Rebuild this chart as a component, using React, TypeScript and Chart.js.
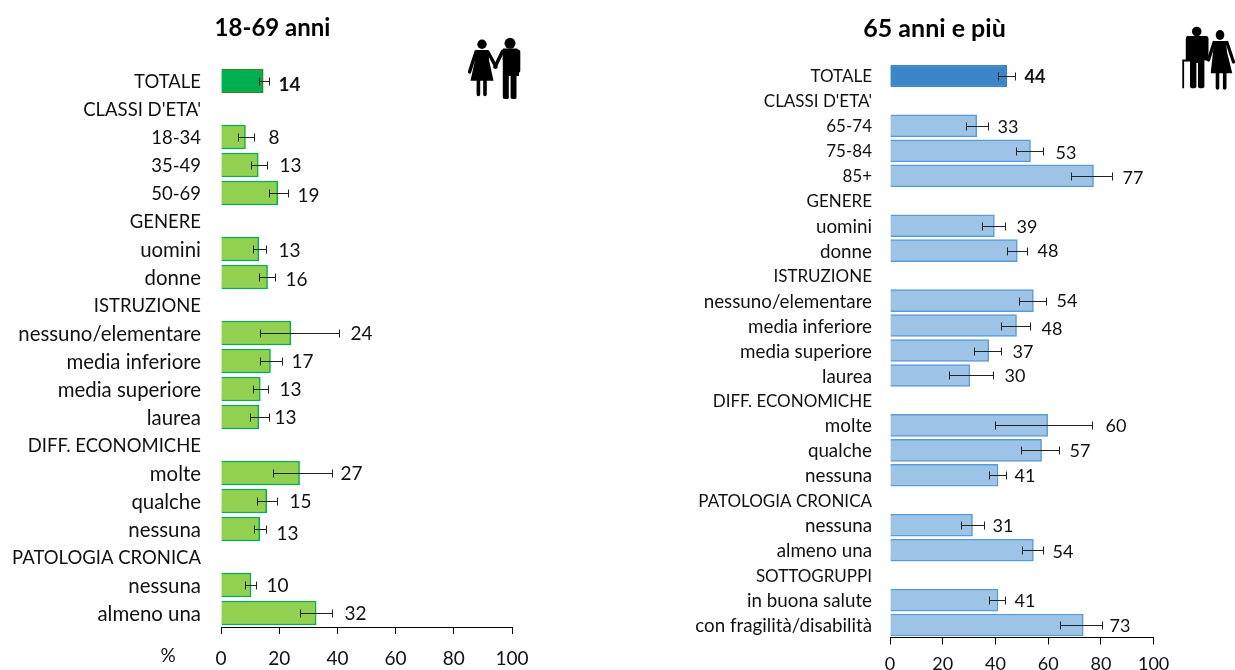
import React, { useEffect, useRef } from "react";
import { Chart, registerables } from "chart.js";

Chart.register(...registerables);

const categoriesYoung = ["TOTALE", "CLASSI D'ETA'", "18-34", "35-49", "50-69", "GENERE", "uomini", "donne", "ISTRUZIONE", "nessuno/elementare", "media inferiore", "media superiore", "laurea", "DIFF. ECONOMICHE", "molte", "qualche", "nessuna", "PATOLOGIA CRONICA", "nessuna", "almeno una"];
const valuesYoung = [14.5, null, 8.4, 12.8, 19.5, null, 13, 16, null, 24, 17, 13.5, 13, null, 27, 15.7, 13.3, null, 10.3, 32.7];
const lowYoung = [12.9, null, 5.7, 10.2, 16.6, null, 11, 13, null, 13.5, 13.5, 11, 10, null, 18, 12.2, 11.5, null, 8.4, 27.2];
const highYoung = [16.5, null, 11.4, 15.7, 23, null, 15.5, 18.5, null, 40.5, 21, 16, 16.5, null, 38, 19.4, 15.4, null, 12, 38];
const labelsYoung = ["14", "", "8", "13", "19", "", "13", "16", "", "24", "17", "13", "13", "", "27", "15", "13", "", "10", "32"];

const categoriesOld = ["TOTALE", "CLASSI D'ETA'", "65-74", "75-84", "85+", "GENERE", "uomini", "donne", "ISTRUZIONE", "nessuno/elementare", "media inferiore", "media superiore", "laurea", "DIFF. ECONOMICHE", "molte", "qualche", "nessuna", "PATOLOGIA CRONICA", "nessuna", "almeno una", "SOTTOGRUPPI", "in buona salute", "con fragilità/disabilità"];
const valuesOld = [44.3, null, 32.9, 53.3, 77.2, null, 39.6, 48.3, null, 54.4, 48, 37.5, 30.3, null, 59.8, 57.5, 41, null, 31.3, 54.4, null, 41, 73.3];
const lowOld = [41, null, 28.9, 47.9, 68.5, null, 35, 44.5, null, 49, 42, 32, 22.5, null, 40, 49.7, 37.5, null, 27, 50, null, 37.5, 64.5];
const highOld = [47.3, null, 37.2, 58, 84.2, null, 43.7, 52, null, 59, 53, 42, 39, null, 76.5, 64.3, 44, null, 35.5, 58, null, 43.5, 80.5];
const labelsOld = ["44", "", "33", "53", "77", "", "39", "48", "", "54", "48", "37", "30", "", "60", "57", "41", "", "31", "54", "", "41", "73"];

const xTicks = [0, 20, 40, 60, 80, 100];

// Layout only: gap between whisker end and value label, and vertical shift of the label.
const labelGapYoung = [9, 0, 14, 12, 9, 0, 12, 10, 0, 11, 9, 11, 5, 0, 8, 12, 10, 0, 10, 12];
const labelDropYoung = [3, 0, 0, 0, 2, 0, 1, 2, 0, 0, 0, 0, 0, 0, 0, 0, 4, 0, 0, 0];
const labelGapOld = [9, 0, 9, 12, 10, 0, 11, 10, 0, 10, 11, 11, 11, 0, 13, 10, 8, 0, 8, 9, 0, 9, 7];
const labelDropOld = [0, 0, 0, 1, 1, 0, 0, 0, 0, 0, 3, 1, 0, 0, 0, 0, 0, 0, 0, 1, 0, 0, 0];

const FONT = "Lato, 'Noto Sans', sans-serif";
const INK = "#111";

type Panel = {
  title: string;
  categories: string[];
  values: (number | null)[];
  low: (number | null)[];
  high: (number | null)[];
  labels: string[];
  gap: number[];
  drop: number[];
  canvasLeft: number;
  canvasWidth: number;
  axisLeft: number;
  axisRight: number;
  plotBottom: number;
  titleCenter: number;
  titleFont: number;
  titleBottomPad: number;
  catFont: number;
  catFontLower: number;
  valFont: number;
  tickFont: number;
  tickPad: number;
  catPad: number;
  barThickness: number;
  fill: string;
  stroke: string;
  totalFill: string;
  totalStroke: string;
  percent: boolean;
};

const panels: Panel[] = [
  {
    title: "18-69 anni", categories: categoriesYoung, values: valuesYoung, low: lowYoung, high: highYoung, labels: labelsYoung,
    gap: labelGapYoung, drop: labelDropYoung,
    canvasLeft: 0, canvasWidth: 600, axisLeft: 221, axisRight: 512, plotBottom: 627, titleCenter: 272.5, titleFont: 24, titleBottomPad: 24.2,
    catFont: 18.5, catFontLower: 20.4, valFont: 19, tickFont: 19, tickPad: 13, catPad: 12, barThickness: 24,
    fill: "#92D050", stroke: "#00B050", totalFill: "#00B050", totalStroke: "#3F7F2A", percent: true,
  },
  {
    title: "65 anni e più", categories: categoriesOld, values: valuesOld, low: lowOld, high: highOld, labels: labelsOld,
    gap: labelGapOld, drop: labelDropOld,
    canvasLeft: 620, canvasWidth: 615, axisLeft: 890, axisRight: 1153.6, plotBottom: 637.5, titleCenter: 934.5, titleFont: 25, titleBottomPad: 19.5,
    catFont: 17, catFontLower: 18.8, valFont: 18, tickFont: 18, tickPad: 9, catPad: 10, barThickness: 22,
    fill: "#9DC3E6", stroke: "#5B9BD5", totalFill: "#3C85C9", totalStroke: "#3C85C9", percent: false,
  },
];

function BarPanel({ p }: { p: Panel }) {
  const ref = useRef<HTMLCanvasElement>(null);
  useEffect(() => {
    const overlay = {
      id: "whiskersAndValues",
      afterLayout(chart: any) {
        const t = chart.titleBlock;
        if (t) {
          const w = t.right - t.left;
          const c = p.titleCenter - p.canvasLeft;
          t.left = c - w / 2;
          t.right = c + w / 2;
        }
      },
      afterDatasetsDraw(chart: any) {
        const { ctx, scales } = chart;
        const x = scales.x;
        const y = scales.y;
        ctx.save();
        p.values.forEach((v, i) => {
          if (v === null) return;
          const yy = Math.round(y.getPixelForValue(i)) + 0.5;
          const lo = Math.round(x.getPixelForValue(p.low[i])) + 0.5;
          const hi = Math.round(x.getPixelForValue(p.high[i])) + 0.5;
          ctx.strokeStyle = "#222";
          ctx.lineWidth = 1;
          ctx.beginPath();
          ctx.moveTo(lo, yy);
          ctx.lineTo(hi, yy);
          ctx.moveTo(lo, yy - 4);
          ctx.lineTo(lo, yy + 4);
          ctx.moveTo(hi, yy - 4);
          ctx.lineTo(hi, yy + 4);
          ctx.stroke();
          ctx.fillStyle = INK;
          ctx.font = `${i === 0 ? "bold " : ""}${p.valFont}px ${FONT}`;
          ctx.textAlign = "left";
          ctx.textBaseline = "middle";
          ctx.fillText(p.labels[i], hi + p.gap[i], y.getPixelForValue(i) + p.drop[i] + 1);
        });
        if (p.percent) {
          ctx.fillStyle = INK;
          ctx.font = `${p.tickFont}px ${FONT}`;
          ctx.textAlign = "center";
          ctx.textBaseline = "middle";
          ctx.fillText("%", 168, 656);
        }
        ctx.restore();
      },
    };
    const chart = new Chart(ref.current as HTMLCanvasElement, {
      type: "bar",
      data: {
        labels: p.categories,
        datasets: [
          {
            data: p.values,
            backgroundColor: p.values.map((_, i) => (i === 0 ? p.totalFill : p.fill)),
            borderColor: p.values.map((_, i) => (i === 0 ? p.totalStroke : p.stroke)),
            borderWidth: 1.5,
            barThickness: p.barThickness,
          },
        ],
      },
      options: {
        indexAxis: "y",
        animation: false,
        responsive: false,
        layout: { padding: { left: 0, top: 0, bottom: 0, right: p.canvasLeft + p.canvasWidth - p.axisRight } },
        plugins: {
          legend: { display: false },
          tooltip: { enabled: false },
          title: {
            display: true,
            text: p.title,
            color: "#000",
            font: { family: FONT, size: p.titleFont, weight: "bold", lineHeight: 1.2 },
            padding: { top: 14, bottom: p.titleBottomPad },
          },
        },
        scales: {
          x: {
            min: 0,
            max: 100,
            afterBuildTicks(axis: any) {
              axis.ticks = xTicks.map((value) => ({ value }));
            },
            afterFit(axis: any) {
              axis.height = 670 - p.plotBottom;
            },
            border: { display: true, color: "#000", width: 1 },
            grid: { drawOnChartArea: false, drawTicks: true, tickLength: 7, tickColor: "#000", color: "#000" },
            ticks: { color: INK, font: { family: FONT, size: p.tickFont }, padding: p.tickPad, maxRotation: 0 },
          },
          y: {
            afterFit(axis: any) {
              axis.width = p.axisLeft - p.canvasLeft;
            },
            border: { display: false },
            grid: { display: false },
            ticks: {
              color: INK,
              autoSkip: false,
              labelOffset: 1,
              padding: p.catPad,
              font: (ctx: any) => ({
                family: FONT,
                size: /[a-z]/.test(p.categories[ctx.index] ?? "") ? p.catFontLower : p.catFont,
              }),
            },
          },
        },
      } as any,
      plugins: [overlay],
    });
    return () => chart.destroy();
  }, [p]);
  return (
    <canvas
      ref={ref}
      width={p.canvasWidth}
      height={670}
      style={{ position: "absolute", left: p.canvasLeft, top: 0, display: "block" }}
    />
  );
}

function Couple() {
  return (
    <svg style={{ position: "absolute", left: 460, top: 30 }} width={70} height={75} viewBox="460 30 70 75">
      <circle cx={482} cy={44.3} r={4.7} />
      <path d="M475.5 50 H488.5 L489 60 L493.5 80.7 H470.5 L475 60 Z" />
      <path d="M476 52 L469.5 72 M488 52 L496 67" stroke="#000" strokeWidth={3.4} strokeLinecap="round" fill="none" />
      <path d="M478.4 80 V94.5 M485 80 V94.5" stroke="#000" strokeWidth={3.6} strokeLinecap="round" fill="none" />
      <circle cx={510} cy={43.3} r={5.5} />
      <path d="M503 48.5 H517 Q519 49 519 52 V76 H516.5 V97.5 Q516.5 99 513.5 99 Q510.6 99 510.6 97.5 V76 H508.8 V97.5 Q508.8 99 505.7 99 Q502.8 99 502.8 97.5 V60 H502.5 L503 50 Z" />
      <path d="M502.5 51.5 L495 67 M518.5 51.5 V71" stroke="#000" strokeWidth={3.6} strokeLinecap="round" fill="none" />
    </svg>
  );
}

function Elders() {
  return (
    <svg style={{ position: "absolute", left: 1175, top: 20 }} width={60} height={75} viewBox="1175 20 60 75">
      <circle cx={1196.7} cy={31.5} r={4.8} />
      <path d="M1188 36 H1206 Q1208.5 36 1208.5 39 V60.5 H1204.4 V86.5 Q1204.4 88.3 1201.2 88.3 Q1198 88.3 1198 86.5 V63 H1196.4 V86.5 Q1196.4 88.3 1193 88.3 Q1190 88.3 1190 86.5 V61.5 H1185.8 V39 Q1185.8 36 1188 36 Z" />
      <path d="M1183.2 88.3 V60.5 H1186.5" stroke="#000" strokeWidth={1.8} fill="none" />
      <ellipse cx={1220} cy={35} rx={4.3} ry={5} />
      <path d="M1214 41 H1226 L1227 52 L1232.3 73.3 H1210.7 L1213 52 Z" />
      <path d="M1214 42.5 L1208.5 60 M1227 42.5 L1233.5 62" stroke="#000" strokeWidth={3.2} strokeLinecap="round" fill="none" />
      <path d="M1217.5 73 V88 M1224.7 73 V88" stroke="#000" strokeWidth={3.6} strokeLinecap="round" fill="none" />
    </svg>
  );
}

export default function App() {
  return (
    <div style={{ position: "absolute", left: 0, top: 0, width: 1235, height: 670, overflow: "hidden", background: "#fff" }}>
      {panels.map((p) => (
        <BarPanel key={p.title} p={p} />
      ))}
      <Couple />
      <Elders />
    </div>
  );
}
